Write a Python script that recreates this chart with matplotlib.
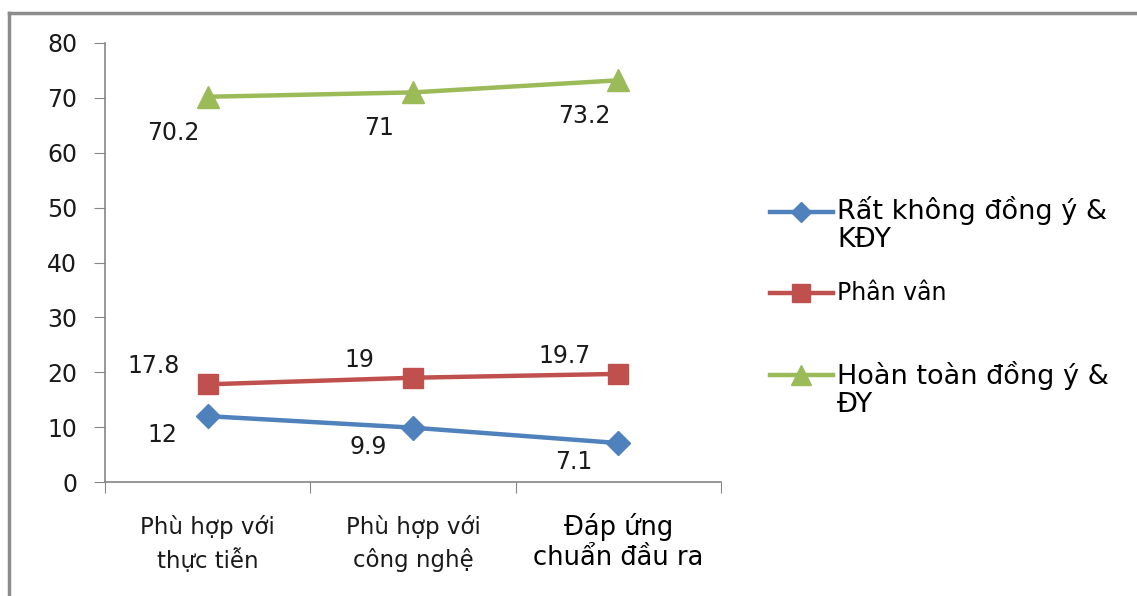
import numpy as np
import matplotlib.pyplot as plt
from matplotlib.lines import Line2D

categories = ["Phù hợp với\nthực tiễn", "Phù hợp với\ncông nghệ", "Đáp ứng\nchuẩn đầu ra"]
rat_khong = [12, 9.9, 7.1]
phan_van = [17.8, 19, 19.7]
hoan_toan = [70.2, 71, 73.2]
series_names = ["Rất không đồng ý &\nKĐY", "Phân vân", "Hoàn toàn đồng ý &\nĐY"]
yticks = [0, 10, 20, 30, 40, 50, 60, 70, 80]

colors = ["#4F81BD", "#C0504D", "#9BBB59"]
markers = ["D", "s", "^"]
msizes = [12, 15, 16]
leg_msizes = [10, 13, 14]
# label offsets (pixels) per series
offsets = [(-45, -19), (-54, 18), (-34, -36)]

fig = plt.figure(figsize=(11.37, 5.96), dpi=100)
ax = fig.add_axes([105/1137, 1-482/596, (721-105)/1137, (482-43)/596])

x = np.arange(len(categories))
all_series = [rat_khong, phan_van, hoan_toan]
for vals, c, m, ms, off in zip(all_series, colors, markers, msizes, offsets):
    ax.plot(x, vals, color=c, lw=3.2, marker=m, ms=ms, mec=c, mfc=c, zorder=3)
    for xi, v in zip(x, vals):
        ax.annotate(f"{v:g}", (xi, v), xytext=off, textcoords="offset pixels",
                    ha="center", va="center", fontsize=17, color="#1a1a1a")

ax.set_xlim(-0.5, 2.5)
ax.set_ylim(0, 80)
ax.set_yticks(yticks)
ax.set_xticks([-0.5, 0.5, 1.5, 2.5])
ax.set_xticklabels([])
ax.set_xticks(x, minor=True)
ax.tick_params(axis="x", which="minor", length=0, pad=24)
ax.set_xticklabels(categories[:2] + [""], minor=True, fontsize=16.5, color="#1a1a1a",
                   linespacing=1.45)
ax.text(2, -0.07, categories[2], transform=ax.get_xaxis_transform(), ha="center",
        va="top", fontsize=18.5, color="black", linespacing=1.2)
ax.tick_params(axis="x", which="major", length=8, color="#868686", direction="out")
ax.tick_params(axis="y", length=8, color="#868686", labelsize=17, labelcolor="#1a1a1a", pad=12)
for s in ["top", "right"]:
    ax.spines[s].set_visible(False)
for s in ["left", "bottom"]:
    ax.spines[s].set_color("#868686")
    ax.spines[s].set_linewidth(1.2)

# legend drawn by hand
W, H = 1137, 596
leg = [(212, 225, 19.5), (293, 293, 17), (375, 389, 19.5)]
for (hy, ty, fs), name, c, m, ms in zip(leg, series_names, colors, markers, leg_msizes):
    fig.add_artist(Line2D([770/W, 833/W], [1-hy/H, 1-hy/H], color=c, lw=3.2))
    fig.add_artist(Line2D([801/W], [1-hy/H], color=c, marker=m, ms=ms, mec=c, mfc=c))
    fig.text(837/W, 1-ty/H, name, ha="left", va="center", fontsize=fs, linespacing=1.1)

# chart frame (top and left edges)
fig.add_artist(Line2D([8.5/W, 8.5/W], [0, 1-13/H], color="#8c8c8c", lw=2.5))
fig.add_artist(Line2D([8.5/W, 1], [1-13/H, 1-13/H], color="#8c8c8c", lw=2.5))

fig.savefig("out.png", dpi=100)
